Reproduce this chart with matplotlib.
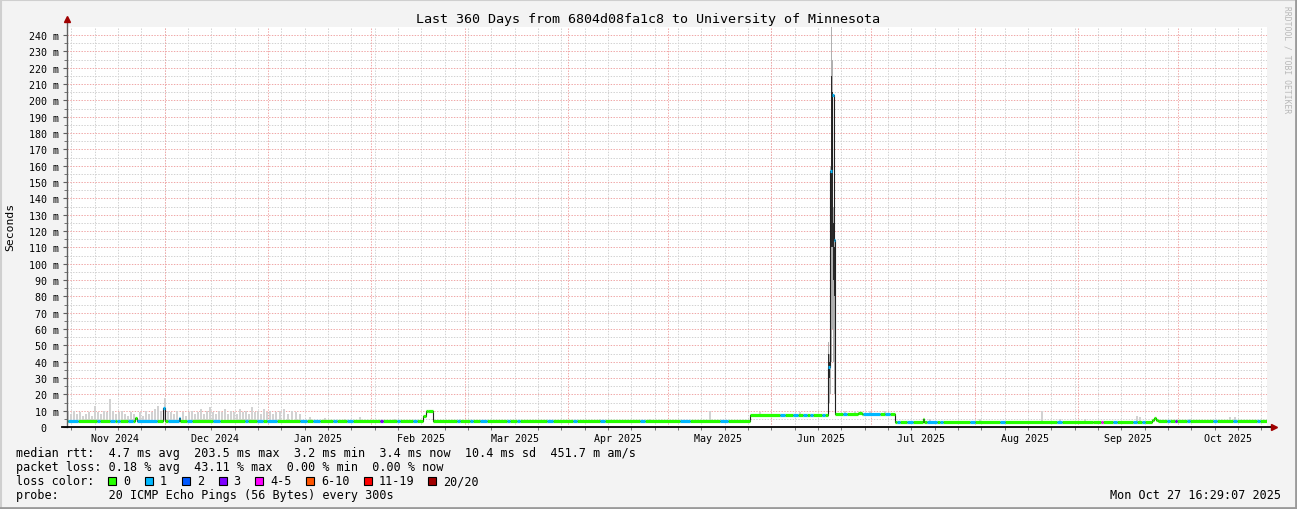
import numpy as np
import pandas as pd
import matplotlib
matplotlib.use('Agg')
import matplotlib.pyplot as plt
import matplotlib.dates as mdates
from matplotlib.ticker import MultipleLocator, FuncFormatter
from matplotlib.patches import Rectangle
from matplotlib.lines import Line2D

plt.rcParams['font.family'] = 'DejaVu Sans Mono'

end_time = pd.Timestamp('2025-10-27 16:29:07')
span_days = 360
start_time = end_time - pd.Timedelta(days=span_days)

# median rtt (ms), constant from each day offset until the next one
median_day = [0, 20.5, 20.9, 28.8, 29.4, 33.7, 34.0,
              106.8, 107.8, 108.4, 109.8,
              204.9, 228.3, 229.0, 229.5, 230.1, 230.55, 237.3, 238.6,
              248.4, 256.8, 257.1, 307.8, 310.8,
              325.6, 326.2, 326.8, 327.3]
median_ms = [3.4, 5.5, 3.4, 11.5, 3.4, 5.5, 3.4,
             7.0, 9.5, 10.0, 3.4,
             7.6, 36.7, 156.8, 203.5, 114.7, 7.9, 8.6, 7.9,
             3.3, 4.9, 3.3, 2.9, 3.3,
             4.5, 5.3, 4.5, 3.4]

# packet loss (pings lost out of 20) for short stretches, 0 elsewhere
loss_from = [0.3, 9.0, 12.9, 15.0, 18.3, 21.0, 28.8, 30.3, 36.0, 43.8, 53.4, 57.0,
             60.0, 69.9, 73.8, 79.8, 84.0, 93.9, 99.0, 103.8, 117.0, 120.9,
             123.9, 132.0, 135.0, 144.0, 151.8, 159.9, 171.9, 183.9, 195.9,
             213.9, 217.8, 220.8, 222.9, 226.5, 228.3, 232.8, 238.8, 245.4,
             249.0, 252.0, 258.0, 261.9, 270.9, 279.9, 297.0, 310.2, 313.8,
             319.8, 322.5, 330.0, 332.4, 336.0, 343.8, 349.8, 357.0]
loss_to = [3.3, 9.9, 14.4, 15.9, 19.8, 27.0, 29.4, 33.9, 37.5, 45.9, 54.3, 58.8,
           63.0, 72.0, 75.9, 81.0, 85.8, 94.8, 99.9, 105.0, 117.9, 121.8,
           126.0, 132.9, 135.9, 145.8, 153.0, 161.4, 173.4, 186.9, 198.3,
           215.4, 219.3, 222.0, 223.8, 227.4, 230.55, 234.0, 243.9, 246.9,
           249.9, 253.8, 261.0, 262.8, 272.4, 281.4, 298.5, 310.8, 315.0,
           321.0, 323.4, 330.9, 333.0, 336.9, 345.0, 351.0, 357.9]
loss_count = [1, 1, 1, 1, 1, 1, 1, 1, 1, 1, 1, 1,
              1, 1, 1, 1, 1, 3, 1, 1, 1, 1,
              1, 1, 1, 1, 1, 1, 1, 1, 1,
              1, 1, 1, 1, 1, 1, 1, 1, 1,
              1, 1, 1, 1, 1, 1, 1, 4, 1,
              1, 1, 1, 3, 1, 1, 1, 1]

# light grey smoke: day offset and top of the smoke (ms)
smoke_day = [0.3, 1.2, 2.1, 3.0, 3.9, 4.8, 5.7, 6.6, 7.5, 8.4, 9.3, 10.2, 11.1,
             12.0, 12.9, 13.8, 14.7, 15.6, 16.5, 17.4, 18.3, 19.2, 20.1, 21.9,
             22.8, 23.7, 24.6, 25.5, 26.4, 27.3, 28.2, 29.4, 30.3, 31.2, 32.1,
             33.0, 34.8, 35.7, 36.6, 37.5, 38.4, 39.3, 40.2, 41.1, 42.0, 42.9,
             43.8, 44.7, 45.6, 46.5, 47.4, 48.3, 49.2, 50.1, 51.0, 51.9, 52.8,
             53.7, 54.6, 55.5, 56.4, 57.3, 58.2, 59.1, 60.0, 60.9, 61.8, 62.7,
             63.9, 65.1, 66.3, 67.5, 68.7, 69.9, 72.9, 77.4, 83.4, 87.9, 98.4,
             117.9, 123.9, 141.9, 159.9, 174.9, 192.9, 207.9, 219.9, 233.4,
             236.4, 240.9, 245.4, 258.9, 273.9, 292.5, 297.9, 305.4, 321.0,
             321.9, 336.9, 348.9, 350.4]
smoke_top = [10, 8, 10, 8, 9, 7, 8, 9, 7, 13, 9, 8, 10,
             9, 17, 10, 8, 9, 10, 8, 7, 9, 8, 9,
             7, 10, 8, 9, 11, 13, 10, 18, 10, 9, 8,
             10, 9, 7, 9, 10, 8, 9, 11, 8, 10, 12,
             9, 8, 10, 9, 11, 8, 10, 9, 8, 11, 9,
             10, 8, 12, 9, 10, 8, 11, 9, 10, 8, 9,
             10, 11, 8, 10, 9, 8, 6, 5.5, 5, 6, 5,
             5, 4.5, 4.5, 5, 5, 10, 9, 9, 10,
             10, 9.5, 9.5, 5, 5, 10, 5, 5, 7,
             6, 5, 6, 6]

# smoke of the June spike (outer band and darker core, ms)
spike_day = [228.45, 228.75, 229.05, 229.35, 229.65, 229.95, 230.25]
spike_lo = [15, 15, 20, 40, 60, 40, 20]
spike_hi = [52, 45, 160, 260, 225, 135, 120]
spike_core_lo = [25, 30, 60, 110, 110, 90, 80]
spike_core_hi = [45, 40, 157, 215, 205, 125, 110]

loss_labels = ['0', '1', '2', '3', '4-5', '6-10', '11-19', '20/20']
loss_colors = ['#26ff00', '#00b8ff', '#0059ff', '#7e00ff',
               '#ff00ff', '#ff5500', '#ff0000', '#a10000']

stats_line = 'median rtt:  4.7 ms avg  203.5 ms max  3.2 ms min  3.4 ms now  10.4 ms sd  451.7 m am/s'
loss_line = 'packet loss: 0.18 % avg  43.11 % max  0.00 % min  0.00 % now'
probe_line = 'probe:       20 ICMP Echo Pings (56 Bytes) every 300s'
title = 'Last 360 Days from 6804d08fa1c8 to University of Minnesota'


def loss_bucket(n):
    if n <= 3:
        return n
    if n <= 5:
        return 4
    if n <= 10:
        return 5
    if n <= 19:
        return 6
    return 7


W, H = 1297, 510
fig = plt.figure(figsize=(W / 100, H / 100), dpi=100, facecolor='#f3f3f3')
ax = fig.add_axes([67 / W, 1 - 428 / H, 1200 / W, 400 / H])
ax.set_facecolor('white')

t0 = mdates.date2num(start_time.to_pydatetime())
ymax = 240 + 8 / (392 / 240)
ax.set_xlim(t0, t0 + span_days)
ax.set_ylim(0, ymax)

# grid (1px dots)
minor_c = '#d2d2d2'
major_c = '#f0a8a8'
dots = (0, (1.4, 1.4))
for v in np.arange(5, ymax, 10):
    ax.axhline(v, color=minor_c, lw=0.72, ls=dots, zorder=0)
for v in np.arange(10, ymax, 10):
    ax.axhline(v, color=major_c, lw=0.72, ls=dots, zorder=0.5)
for d in pd.date_range(start_time.normalize(), end_time, freq='W-SUN'):
    ax.axvline(mdates.date2num(d.to_pydatetime()), color=minor_c, lw=0.72,
               ls=dots, zorder=0)
for d in pd.date_range(start_time.normalize(), end_time, freq='MS'):
    ax.axvline(mdates.date2num(d.to_pydatetime()), color=major_c, lw=0.72,
               ls=dots, zorder=0.5)

# smoke
med_day = np.array(median_day)
med_val = np.array(median_ms)
smoke_day = np.array(smoke_day)
smoke_base = med_val[np.searchsorted(med_day, smoke_day, side='right') - 1]
ax.bar(t0 + smoke_day, np.array(smoke_top) - smoke_base, bottom=smoke_base,
       width=0.35, color='#d2d2d2', zorder=1)
ax.bar(t0 + np.array(spike_day), np.array(spike_hi) - np.array(spike_lo),
       bottom=spike_lo, width=0.42, color='#b0b0b0', zorder=1)
ax.bar(t0 + np.array(spike_day), np.array(spike_core_hi) - np.array(spike_core_lo),
       bottom=spike_core_lo, width=0.42, color='#2a2a2a', zorder=1.2)

# thin dark median line
step_x = np.append(med_day, span_days)
step_y = np.append(med_val, med_val[-1])
ax.step(t0 + step_x, step_y, where='post', color='#202020', lw=0.8, zorder=2)

# thick median segments coloured by loss
breaks = sorted(set(median_day) | set(loss_from) | set(loss_to) | {span_days})
seg = {i: ([], [], []) for i in range(len(loss_colors))}
for a, b in zip(breaks[:-1], breaks[1:]):
    m = med_val[np.searchsorted(med_day, a, side='right') - 1]
    n = 0
    for lf, lt, lc in zip(loss_from, loss_to, loss_count):
        if lf <= a < lt:
            n = lc
    k = loss_bucket(n)
    seg[k][0].append(m)
    seg[k][1].append(t0 + a)
    seg[k][2].append(t0 + b)
for k, (ys, xa, xb) in seg.items():
    if ys:
        ax.hlines(ys, xa, xb, color=loss_colors[k], lw=2.3, zorder=3)

# axes, ticks
for s in ax.spines.values():
    s.set_visible(False)
ax.yaxis.set_major_locator(MultipleLocator(10))
ax.yaxis.set_minor_locator(MultipleLocator(5))
ax.yaxis.set_major_formatter(FuncFormatter(lambda v, p: '0  ' if v == 0 else '%d m' % v))
ax.xaxis.set_major_locator(mdates.MonthLocator(bymonthday=16))
ax.xaxis.set_major_formatter(mdates.DateFormatter('%b %Y'))
ax.xaxis.set_minor_locator(mdates.WeekdayLocator(byweekday=mdates.SU))
ax.tick_params(axis='x', which='major', length=0, labelsize=7.2, pad=4)
ax.tick_params(axis='x', which='minor', length=2, color='#606060')
ax.tick_params(axis='y', which='major', length=3, labelsize=7.2, pad=3, color='#606060')
ax.tick_params(axis='y', which='minor', length=2, color='#606060')

ax.plot([0, 0], [0, 1.018], transform=ax.transAxes, color='#606060', lw=1,
        clip_on=False, zorder=5)
ax.plot([-0.004, 1.004], [0, 0], transform=ax.transAxes, color='black', lw=1.3,
        clip_on=False, zorder=5)
ax.plot([0], [1.02], marker='^', ms=4.5, color='#a00000', transform=ax.transAxes,
        clip_on=False, zorder=6)
ax.plot([1.006], [0], marker='>', ms=4.5, color='#a00000', transform=ax.transAxes,
        clip_on=False, zorder=6)

# texts
fig.text(0.5, 1 - 19 / H, title, ha='center', va='center', fontsize=9.6)
fig.text(10 / W, 1 - 227 / H, 'Seconds', rotation=90, ha='center', va='center',
         fontsize=8.2)
fig.text(1287 / W, 1 - 60 / H, 'RRDTOOL / TOBI OETIKER', rotation=270,
         ha='center', va='center', fontsize=5.8, color='#b8b8b8')

fs = 8.5
fig.text(16 / W, 1 - 454 / H, stats_line, va='center', fontsize=fs)
fig.text(16 / W, 1 - 468 / H, loss_line, va='center', fontsize=fs)
fig.text(16 / W, 1 - 482 / H, 'loss color:', va='center', fontsize=fs)
fig.text(16 / W, 1 - 496 / H, probe_line, va='center', fontsize=fs)
fig.text(1281 / W, 1 - 496 / H, end_time.strftime('%a %b %d %H:%M:%S %Y'),
         ha='right', va='center', fontsize=fs)

bx = 108
for lab, col in zip(loss_labels, loss_colors):
    fig.patches.append(Rectangle((bx / W, 1 - 486 / H), 8 / W, 8 / H,
                                 transform=fig.transFigure, facecolor=col,
                                 edgecolor='black', lw=0.8))
    fig.text((bx + 15) / W, 1 - 482 / H, lab, va='center', fontsize=fs)
    bx += (len(lab) + 4.3) * 6.95

# frame
fig.add_artist(Line2D([0, 1], [1 - 1 / H, 1 - 1 / H], transform=fig.transFigure,
                      color='#cfcfcf', lw=1.5))
fig.add_artist(Line2D([1 / W, 1 / W], [0, 1], transform=fig.transFigure,
                      color='#cfcfcf', lw=1.5))
fig.add_artist(Line2D([0, 1], [1 / H, 1 / H], transform=fig.transFigure,
                      color='#9a9a9a', lw=2))
fig.add_artist(Line2D([1 - 1 / W, 1 - 1 / W], [0, 1], transform=fig.transFigure,
                      color='#9a9a9a', lw=2))

fig.savefig('out.png', dpi=100, facecolor=fig.get_facecolor())
